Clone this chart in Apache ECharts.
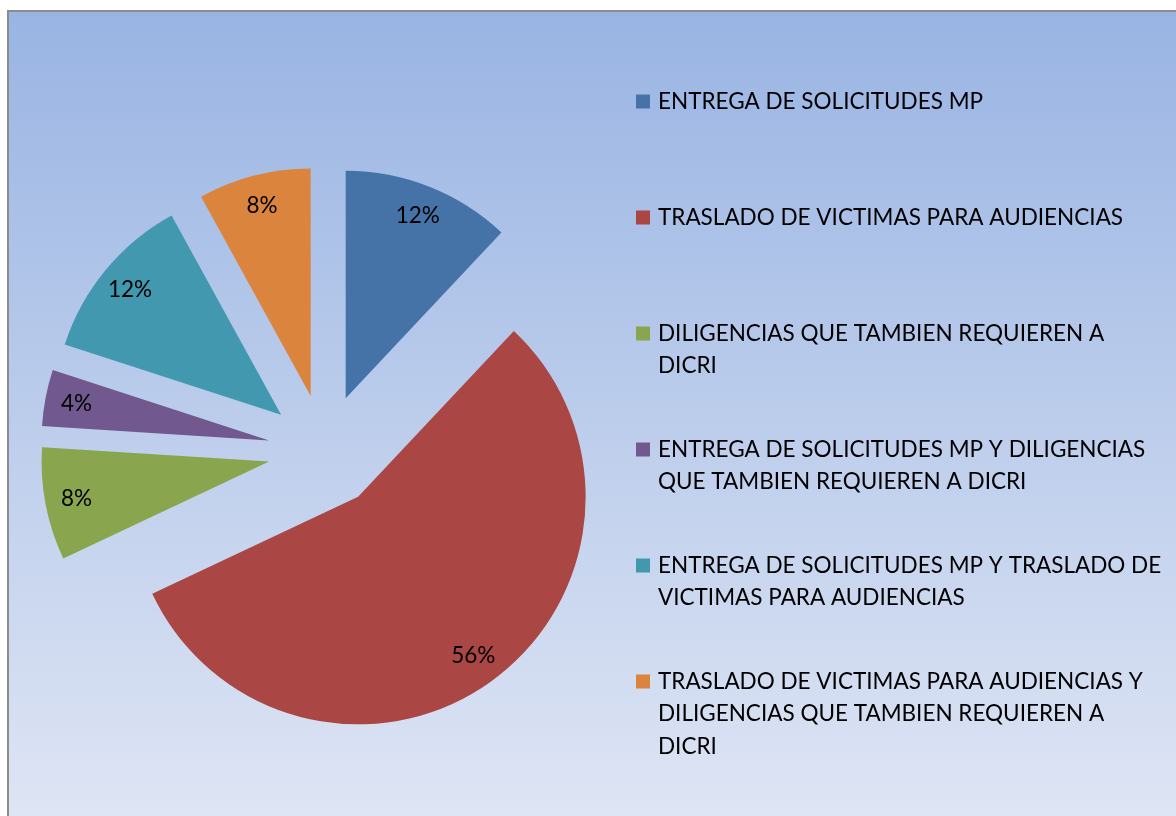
<!DOCTYPE html>
<html>
<head>
<meta charset="utf-8">
<script src="https://cdn.jsdelivr.net/npm/echarts@6/dist/echarts.min.js"></script>
<style>
  html, body { margin: 0; padding: 0; background: #ffffff; }
  #chart { width: 1176px; height: 816px; }
</style>
</head>
<body>
<div id="chart"></div>
<script>
// ---- data ----
const categories = [
  'ENTREGA DE SOLICITUDES MP',
  'TRASLADO DE VICTIMAS PARA AUDIENCIAS',
  'DILIGENCIAS QUE TAMBIEN REQUIEREN A DICRI',
  'ENTREGA DE SOLICITUDES MP Y DILIGENCIAS QUE TAMBIEN REQUIEREN A DICRI',
  'ENTREGA DE SOLICITUDES MP Y TRASLADO DE VICTIMAS PARA AUDIENCIAS',
  'TRASLADO DE VICTIMAS PARA AUDIENCIAS Y DILIGENCIAS QUE TAMBIEN REQUIEREN A DICRI'
];
const legendLabels = [
  'ENTREGA DE SOLICITUDES MP',
  'TRASLADO DE VICTIMAS PARA AUDIENCIAS',
  'DILIGENCIAS QUE TAMBIEN REQUIEREN A\nDICRI',
  'ENTREGA DE SOLICITUDES MP Y DILIGENCIAS\nQUE TAMBIEN REQUIEREN A DICRI',
  'ENTREGA DE SOLICITUDES MP Y TRASLADO DE\nVICTIMAS PARA AUDIENCIAS',
  'TRASLADO DE VICTIMAS PARA AUDIENCIAS Y\nDILIGENCIAS QUE TAMBIEN REQUIEREN A\nDICRI'
];
const values = [12, 56, 8, 4, 12, 8];

// ---- style ----
const colors = ['#4572A7', '#AA4643', '#89A54E', '#71588F', '#4198AF', '#DB843D'];
const FONT = 'Lato';
const FS = 22.5;
const LH = 32.5;
const CENTER = [324.8, 451];
const R = 227.5;
const EXPLODE = 56.7;
const LABEL_R0 = 158.5;

const chart = echarts.init(document.getElementById('chart'), null, { renderer: 'canvas' });

const pieData = values.map((v, i) => ({
  name: categories[i],
  value: v,
  selected: true,
  itemStyle: { color: colors[i] }
}));
const labelData = values.map((v, i) => ({
  name: categories[i],
  value: v,
  selected: true
}));

// one legend per item so every item sits in a fixed slot with its icon on the first line.
// (n-1) empty lines are put before the text so the first text line is centred on the icon.
const legends = categories.map((name, i) => {
  const n = legendLabels[i].split('\n').length;
  const iconY = 101.5 + 116 * i;
  const shown = '\n'.repeat(n - 1) + legendLabels[i];
  return {
    show: true,
    data: [name],
    orient: 'vertical',
    left: 636,
    top: iconY - (2 * n - 1) * LH / 2,
    padding: 0,
    icon: 'rect',
    itemWidth: 14,
    itemHeight: 14,
    selectedMode: false,
    formatter: () => shown,
    textStyle: {
      color: '#000000',
      fontFamily: FONT,
      fontSize: FS,
      lineHeight: LH,
      padding: [0, 0, 0, 3]
    }
  };
});

const option = {
  animation: false,
  backgroundColor: '#ffffff',
  graphic: [
    {
      type: 'rect',
      z: -100,
      silent: true,
      shape: { x: 9, y: 12, width: 1167, height: 804 },
      style: {
        fill: new echarts.graphic.LinearGradient(0, 0, 0, 1, [
          { offset: 0, color: '#99B4E3' },
          { offset: 1, color: '#DEE5F4' }
        ])
      }
    },
    {
      type: 'polyline',
      z: -99,
      silent: true,
      shape: { points: [[8, 816], [8, 11], [1176, 11]] },
      style: { stroke: '#8C8C8C', lineWidth: 2, fill: null }
    }
  ],
  legend: legends,
  series: [
    {
      type: 'pie',
      center: CENTER,
      radius: R,
      startAngle: 90,
      clockwise: true,
      selectedMode: 'multiple',
      selectedOffset: EXPLODE,
      silent: true,
      label: { show: false },
      labelLine: { show: false },
      itemStyle: { borderWidth: 0 },
      emphasis: { disabled: true },
      data: pieData
    },
    {
      type: 'pie',
      center: CENTER,
      radius: [LABEL_R0, R],
      startAngle: 90,
      clockwise: true,
      selectedMode: 'multiple',
      selectedOffset: EXPLODE,
      silent: true,
      itemStyle: { color: 'rgba(0,0,0,0)', borderWidth: 0 },
      emphasis: { disabled: true },
      labelLine: { show: false },
      label: {
        show: true,
        position: 'inside',
        formatter: '{d}%',
        color: '#000000',
        fontFamily: FONT,
        fontSize: FS,
        textBorderWidth: 0
      },
      data: labelData
    }
  ]
};

chart.setOption(option);
</script>
</body>
</html>
